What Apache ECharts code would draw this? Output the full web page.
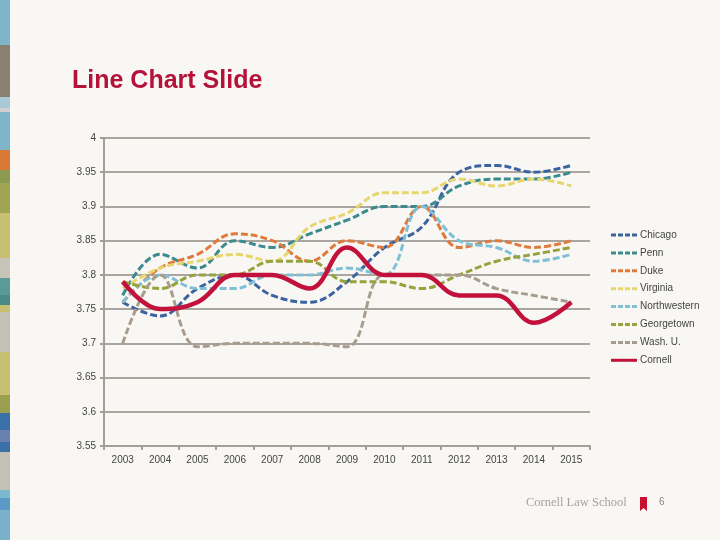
<!DOCTYPE html>
<html><head><meta charset="utf-8">
<script src="https://cdn.jsdelivr.net/npm/echarts@6/dist/echarts.min.js"></script>
<style>html,body{margin:0;padding:0;background:#f8f7f4;}#c{width:720px;height:540px;}</style>
</head><body><div id="c"></div>
<script>
var years = ['2003','2004','2005','2006','2007','2008','2009','2010','2011','2012','2013','2014','2015'];
var chicago      = [3.76,3.74,3.78,3.80,3.77,3.76,3.79,3.84,3.87,3.95,3.96,3.95,3.96];
var penn         = [3.77,3.83,3.81,3.85,3.84,3.86,3.88,3.90,3.90,3.93,3.94,3.94,3.95];
var duke         = [3.76,3.81,3.83,3.86,3.85,3.82,3.85,3.84,3.90,3.84,3.85,3.84,3.85];
var virginia     = [3.78,3.81,3.82,3.83,3.82,3.87,3.89,3.92,3.92,3.94,3.93,3.94,3.93];
var northwestern = [3.76,3.80,3.78,3.78,3.80,3.80,3.81,3.80,3.90,3.85,3.84,3.82,3.83];
var georgetown   = [3.79,3.78,3.80,3.80,3.82,3.82,3.79,3.79,3.78,3.80,3.82,3.83,3.84];
var washu        = [3.70,3.80,3.695,3.70,3.70,3.70,3.695,3.80,3.80,3.80,3.78,3.77,3.76];
var cornell      = [3.79,3.75,3.76,3.80,3.80,3.78,3.84,3.80,3.80,3.77,3.77,3.73,3.76];
var seriesNames = ['Chicago','Penn','Duke','Virginia','Northwestern','Georgetown','Wash. U.','Cornell'];
var seriesData = [chicago,penn,duke,virginia,northwestern,georgetown,washu,cornell];
var colors = ['#3b639f','#3a8a8e','#e07a3a','#e8d56e','#80c0d6','#94a33c','#a89c8e','#c2123c'];

var strip = [
 [0,45,'#7fb5c8'],[45,97,'#8a8070'],[97,108,'#a9c9d6'],[108,112,'#d0d0d0'],[112,150,'#7fb5c8'],
 [150,170,'#d87a35'],[170,183,'#8a9a50'],[183,213,'#a0a552'],[213,258,'#c8c070'],[258,278,'#c8c4b8'],
 [278,295,'#5a9a98'],[295,305,'#4a8a88'],[305,312,'#c8c070'],[312,352,'#c4c0b4'],[352,395,'#c8c070'],
 [395,413,'#9aa050'],[413,430,'#3a70a8'],[430,442,'#6a80b0'],[442,452,'#3a70a8'],[452,490,'#c4c0b4'],
 [490,498,'#7ab8d0'],[498,510,'#5a9ac8'],[510,540,'#7ab0c8']
];
var graphics = strip.map(function(s){return {type:'rect',shape:{x:0,y:s[0],width:10,height:s[1]-s[0]},style:{fill:s[2]},silent:true};});
graphics.push({type:'text',left:72,top:69,style:{text:'Line Chart Slide',fill:'#b5123a',font:'bold 25px "Liberation Sans", Arial, sans-serif'}});
graphics.push({type:'text',left:526,top:496,style:{text:'Cornell Law School',fill:'#a8a29c',font:'12.5px "Liberation Serif", "DejaVu Serif", serif'}});
graphics.push({type:'polygon',shape:{points:[[640,497],[647,497],[647,511],[643.5,508],[640,511]]},style:{fill:'#c8102e'}});
graphics.push({type:'text',left:659,top:497,style:{text:'6',fill:'#888',font:'10px "Liberation Sans", Arial, sans-serif'}});

var dashIcon = 'path://M0,0h5v3h-5zM7,0h5v3h-5zM14,0h5v3h-5zM21,0h5v3h-5z';
var solidIcon = 'path://M0,0h26v3h-26z';

var series = seriesNames.map(function(n,i){
  var isC = n==='Cornell';
  return {name:n,type:'line',data:seriesData[i],smooth:0.4,symbol:'none',
    lineStyle:{color:colors[i],width:isC?4.5:3,type:isC?'solid':[7,3]},
    itemStyle:{color:colors[i]},z:isC?5:2};
});

var chart = echarts.init(document.getElementById('c'),null,{renderer:'canvas'});
chart.setOption({
  backgroundColor:'#f8f7f4',
  animation:false,
  graphic:graphics,
  legend:{orient:'vertical',left:606,top:225,itemWidth:26,itemHeight:3,itemGap:7.9,
    textStyle:{fontSize:10,color:'#444',padding:[0,0,0,-2],fontFamily:'"Liberation Sans", Arial, sans-serif'},
    data:seriesNames.map(function(n){return {name:n,icon:n==='Cornell'?solidIcon:dashIcon};})},
  grid:{left:104,right:130,top:138,bottom:94},
  xAxis:{type:'category',data:years,boundaryGap:true,
    axisLine:{lineStyle:{color:'#a39e98',width:2}},
    axisTick:{show:true,length:4,lineStyle:{color:'#a39e98',width:2}},
    axisLabel:{color:'#444',fontSize:10,margin:9,fontFamily:'"Liberation Sans", Arial, sans-serif'},
    splitLine:{show:false}},
  yAxis:{type:'value',min:3.55,max:4,interval:0.05,
    axisLine:{show:true,lineStyle:{color:'#a39e98',width:2}},
    axisTick:{show:true,length:4,lineStyle:{color:'#a39e98',width:2}},
    axisLabel:{color:'#444',fontSize:10,margin:8,fontFamily:'"Liberation Sans", Arial, sans-serif',
      formatter:function(v){return String(+v.toFixed(2));}},
    splitLine:{lineStyle:{color:'#aaa59f',width:2}}},
  series:series
});
</script></body></html>
